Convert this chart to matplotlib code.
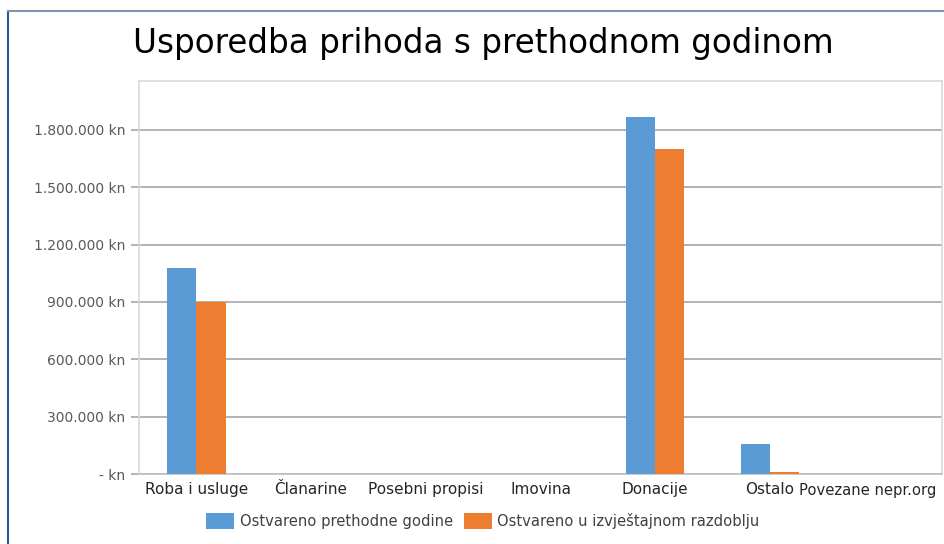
import numpy as np
import matplotlib.pyplot as plt
from matplotlib.lines import Line2D
from matplotlib.ticker import FuncFormatter

categories = ['Roba i usluge', 'Članarine', 'Posebni propisi', 'Imovina',
              'Donacije', 'Ostalo', 'Povezane nepr.org']
prev_year = [1078000, 0, 0, 0, 1868000, 155000, 0]
this_period = [900000, 0, 0, 0, 1700000, 9000, 0]
series_names = ['Ostvareno prethodne godine', 'Ostvareno u izvještajnom razdoblju']
yticks = [0, 300000, 600000, 900000, 1200000, 1500000, 1800000]

blue = '#5B9BD5'
orange = '#ED7D31'

W, H = 945, 544
fig = plt.figure(figsize=(W / 100, H / 100), dpi=100)
ax = fig.add_axes([139 / W, 70 / H, (942 - 139) / W, (474 - 81) / H])

x = np.arange(len(categories))
bw = 0.255
ax.bar(x - bw / 2, prev_year, bw, color=blue, label=series_names[0], zorder=3)
ax.bar(x + bw / 2, this_period, bw, color=orange, label=series_names[1], zorder=3)

ax.set_xlim(-0.5, len(categories) - 0.5)
ax.set_ylim(0, 2056000)
ax.set_yticks(yticks)


def kn(v, pos):
    if v == 0:
        return '- kn'
    return f'{int(v):,} kn'.replace(',', '.')


ax.yaxis.set_major_formatter(FuncFormatter(kn))
ax.set_xticks(x)
ax.set_xticklabels(categories[:-1] + [''], fontsize=11, color='#262626')
# last label nudged left so it stays inside the figure, like in the original
ax.annotate(categories[-1], xy=(x[-1], 0), xycoords=ax.get_xaxis_transform(),
            xytext=(-12, -6.3), textcoords='offset points', ha='center',
            va='top', fontsize=10.6, color='#262626')
ax.tick_params(axis='x', length=0, pad=6)
ax.tick_params(axis='y', labelsize=10, labelcolor='#595959', length=6,
               color='#A6A6A6', width=1.2, pad=4)
ax.grid(axis='y', color='#A6A6A6', lw=1.2, zorder=0)
for s in ax.spines.values():
    s.set_color('#D9D9D9')
    s.set_linewidth(1.2)
ax.spines['bottom'].set_color('#BFBFBF')

fig.text(483 / W, 1 - 44 / H, 'Usporedba prihoda s prethodnom godinom',
         ha='center', va='center', fontsize=23.5, color='black')

fig.legend(loc='center', bbox_to_anchor=(483 / W, 1 - 521 / H), ncol=2,
           frameon=False, fontsize=10.6, handlelength=1.9, handleheight=1.3,
           columnspacing=0.7, handletextpad=0.4, labelcolor='#404040')

# outer frame
fig.add_artist(Line2D([8 / W, 8 / W], [0, 1 - 11 / H], color='#2E5597',
                      lw=1.5, transform=fig.transFigure))
fig.add_artist(Line2D([8 / W, 1], [1 - 11 / H, 1 - 11 / H], color='#8096B0',
                      lw=1.5, transform=fig.transFigure))

plt.savefig('out.png', dpi=100)
plt.close()
